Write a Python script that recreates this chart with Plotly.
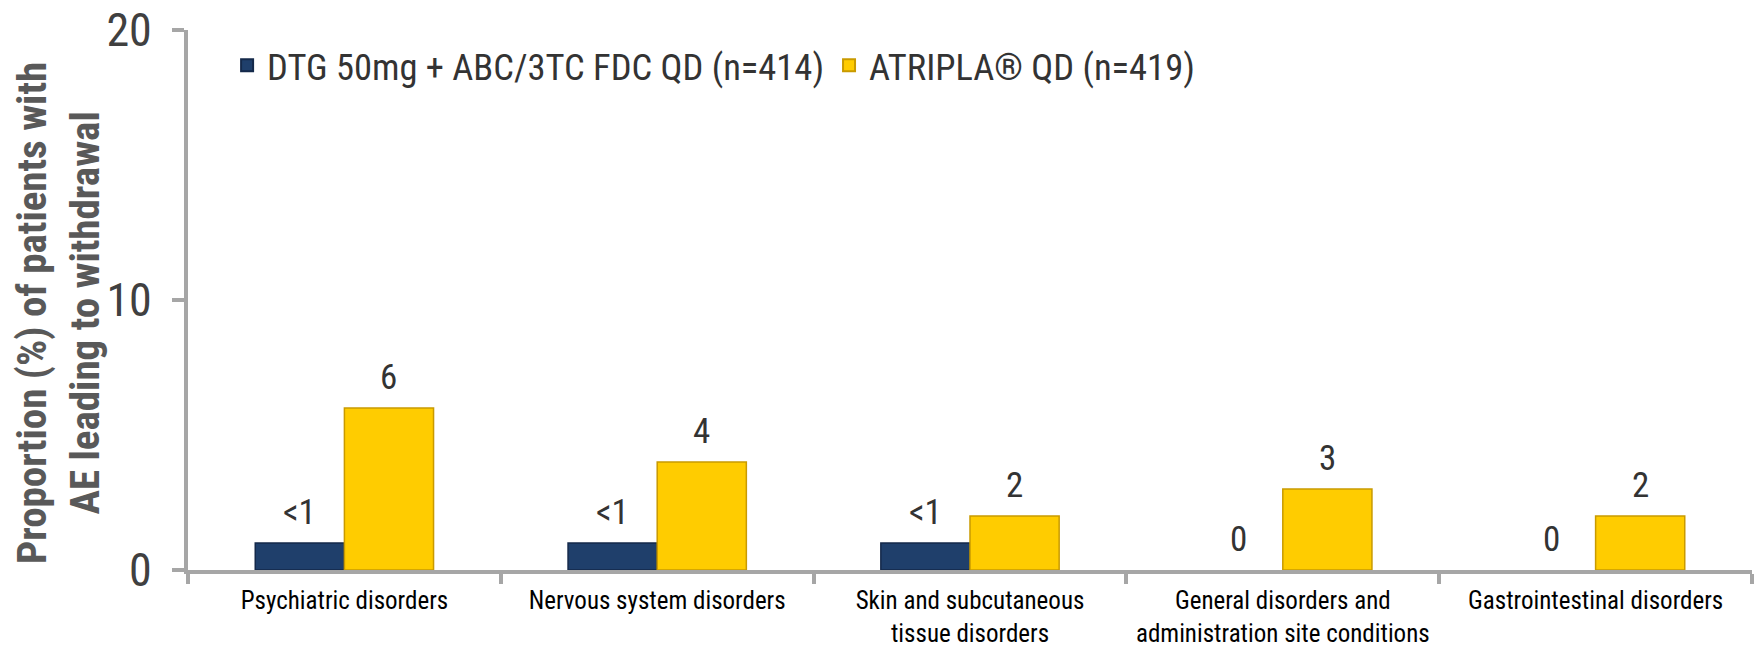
import plotly.graph_objects as go

categories = [
    "Psychiatric disorders",
    "Nervous system disorders",
    "Skin and subcutaneous<br>tissue disorders",
    "General disorders and<br>administration site conditions",
    "Gastrointestinal disorders",
]
series_names = ["DTG 50mg + ABC/3TC FDC QD (n=414)", "ATRIPLA® QD (n=419)"]
dtg_values = [1, 1, 1, 0, 0]
dtg_labels = ["<1", "<1", "<1", "0", "0"]
atripla_values = [6, 4, 2, 3, 2]
atripla_labels = ["6", "4", "2", "3", "2"]
y_ticks = [0, 10, 20]

NARROW = "Liberation Sans Narrow, Arial Narrow, Roboto Condensed, Liberation Sans, sans-serif"
AXIS_GREY = "#A6A6A6"
TEXT_DARK = "#333333"

W, H = 1754, 652
M_L, M_R, M_T, M_B = 188, 2, 30, 82
plot_w = W - M_L - M_R
BARGAP = 0.43
cat_px = plot_w / len(categories)
bar_px = cat_px * (1 - BARGAP) / 2


def outline_widths(values):
    # no outline on empty bars so nothing is drawn at zero
    return [1.5 if v > 0 else 0 for v in values]


fig = go.Figure()
fig.add_trace(go.Bar(
    name=series_names[0], x=categories, y=dtg_values,
    marker=dict(color="#1F3F6B", line=dict(color="#14294A", width=outline_widths(dtg_values))),
))
fig.add_trace(go.Bar(
    name=series_names[1], x=categories, y=atripla_values,
    marker=dict(color="#FFCC00", line=dict(color="#C99A00", width=outline_widths(atripla_values))),
))

# value labels above each bar
for vals, labels, side in ((dtg_values, dtg_labels, -1), (atripla_values, atripla_labels, 1)):
    for c, v, t in zip(categories, vals, labels):
        fig.add_annotation(
            x=c, y=v, xref="x", yref="y", text=t, showarrow=False,
            xshift=side * bar_px / 2, yshift=31, yanchor="middle",
            font=dict(family=NARROW, size=35, color=TEXT_DARK),
        )

# y axis title
fig.add_annotation(
    x=0, y=0.5, xref="paper", yref="paper", xshift=58 - M_L, yshift=-13,
    text="<b>Proportion (%) of patients with<br>AE leading to withdrawal</b>",
    textangle=-90, showarrow=False, xanchor="center", yanchor="middle",
    font=dict(family=NARROW, size=41, color="#595959"),
)

fig.update_layout(
    width=W, height=H,
    margin=dict(l=M_L, r=M_R, t=M_T, b=M_B),
    paper_bgcolor="white", plot_bgcolor="white",
    barmode="group", bargap=BARGAP, bargroupgap=0,
    font=dict(family=NARROW, color=TEXT_DARK),
    showlegend=True,
    legend=dict(
        orientation="h", x=0.025, y=0.934, xanchor="left", yanchor="middle",
        font=dict(family=NARROW, size=36.5, color=TEXT_DARK),
        itemsizing="constant", itemwidth=30, tracegroupgap=0,
        bgcolor="rgba(0,0,0,0)",
    ),
    xaxis=dict(
        showline=True, linecolor=AXIS_GREY, linewidth=4,
        ticks="outside", tickson="boundaries", ticklen=10, tickwidth=4, tickcolor=AXIS_GREY,
        tickfont=dict(family=NARROW, size=25, color="#000000"),
        tickangle=0, automargin=False,
        ticklabelstandoff=5,
        showgrid=False, zeroline=False,
    ),
    yaxis=dict(
        range=[0, 20], tickvals=y_ticks, ticktext=[str(v) for v in y_ticks],
        showline=True, linecolor=AXIS_GREY, linewidth=4,
        ticks="outside", ticklen=12, tickwidth=4, tickcolor=AXIS_GREY,
        tickfont=dict(family=NARROW, size=46, color="#404040"),
        ticklabelstandoff=11, automargin=False,
        showgrid=False, zeroline=False,
    ),
)

fig.write_html("out.html")
